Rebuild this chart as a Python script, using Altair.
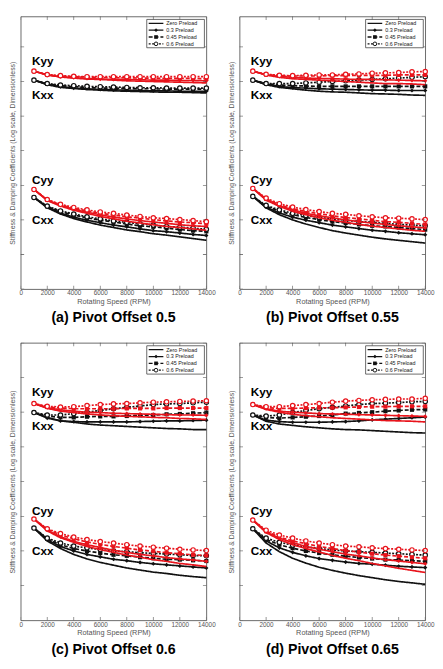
import altair as alt
import pandas as pd

# ---------------- data (log10 of dimensionless coefficients) ----------------
RPM = [1000, 2000, 3000, 4000, 5000, 6000, 7000, 8000, 9000, 10000, 11000, 12000, 13000, 14000]
PRELOADS = ["Zero Preload", "0.3 Preload", "0.45 Preload", "0.6 Preload"]
COEFS = ["Kxx", "Kyy", "Cxx", "Cyy"]
CAPTIONS = ["(a) Pivot Offset 0.5", "(b) Pivot Offset 0.55", "(c) Pivot Offset 0.6", "(d) Pivot Offset 0.65"]
XTICKS = [0, 2000, 4000, 6000, 8000, 10000, 12000, 14000]
YDECADES = [-2, -1, 0, 1, 2, 3, 4, 5, 6]
LABELS = ["Kyy", "Kxx", "Cyy", "Cxx"]
LABEL_LOG = [4.58, 3.60, 1.15, 0.00]
LABEL_RPM = 850

# each list: [zero, 0.3, 0.45, 0.6 preload]
A_KYY = [
    [4.30, 4.19, 4.13, 4.10, 4.07, 4.06, 4.04, 4.02, 4.01, 4.00, 3.99, 3.98, 3.97, 3.96],
    [4.30, 4.19, 4.14, 4.11, 4.09, 4.07, 4.06, 4.06, 4.05, 4.04, 4.04, 4.03, 4.03, 4.02],
    [4.30, 4.19, 4.16, 4.14, 4.13, 4.12, 4.11, 4.11, 4.10, 4.10, 4.09, 4.09, 4.09, 4.08],
    [4.30, 4.20, 4.17, 4.15, 4.14, 4.14, 4.14, 4.14, 4.14, 4.14, 4.14, 4.14, 4.14, 4.14],
]
A_KXX = [
    [4.04, 3.91, 3.83, 3.80, 3.77, 3.75, 3.73, 3.72, 3.71, 3.70, 3.69, 3.69, 3.68, 3.67],
    [4.04, 3.92, 3.85, 3.81, 3.79, 3.77, 3.76, 3.75, 3.74, 3.73, 3.73, 3.72, 3.72, 3.72],
    [4.04, 3.93, 3.88, 3.85, 3.83, 3.81, 3.81, 3.80, 3.79, 3.79, 3.78, 3.78, 3.78, 3.78],
    [4.04, 3.94, 3.90, 3.88, 3.86, 3.85, 3.84, 3.83, 3.82, 3.82, 3.81, 3.81, 3.81, 3.81],
]
A_CYY = [
    [0.88, 0.56, 0.40, 0.28, 0.19, 0.10, 0.03, -0.04, -0.09, -0.14, -0.19, -0.22, -0.26, -0.30],
    [0.88, 0.57, 0.42, 0.31, 0.22, 0.15, 0.08, 0.03, -0.02, -0.06, -0.10, -0.14, -0.17, -0.19],
    [0.88, 0.58, 0.44, 0.33, 0.26, 0.19, 0.14, 0.09, 0.05, 0.01, -0.03, -0.06, -0.08, -0.11],
    [0.88, 0.59, 0.45, 0.36, 0.29, 0.23, 0.19, 0.14, 0.10, 0.06, 0.04, 0.01, -0.02, -0.05],
]
A_CXX = [
    [0.65, 0.35, 0.17, 0.04, -0.06, -0.15, -0.22, -0.29, -0.34, -0.40, -0.44, -0.49, -0.54, -0.59],
    [0.65, 0.37, 0.20, 0.08, -0.01, -0.08, -0.15, -0.20, -0.26, -0.31, -0.34, -0.38, -0.42, -0.45],
    [0.65, 0.39, 0.24, 0.14, 0.06, -0.01, -0.06, -0.12, -0.17, -0.20, -0.24, -0.28, -0.31, -0.33],
    [0.65, 0.40, 0.26, 0.17, 0.09, 0.03, -0.03, -0.07, -0.11, -0.15, -0.19, -0.21, -0.24, -0.27],
]
B_KYY = [
    [4.30, 4.19, 4.12, 4.08, 4.06, 4.04, 4.02, 4.00, 3.98, 3.96, 3.94, 3.94, 3.93, 3.91],
    [4.30, 4.19, 4.15, 4.12, 4.10, 4.09, 4.08, 4.07, 4.06, 4.06, 4.05, 4.04, 4.03, 4.02],
    [4.30, 4.20, 4.17, 4.16, 4.16, 4.16, 4.17, 4.17, 4.18, 4.18, 4.18, 4.19, 4.19, 4.19],
    [4.30, 4.21, 4.18, 4.17, 4.18, 4.19, 4.19, 4.21, 4.22, 4.24, 4.25, 4.26, 4.28, 4.29],
]
B_KXX = [
    [4.04, 3.91, 3.83, 3.79, 3.75, 3.72, 3.70, 3.69, 3.67, 3.65, 3.64, 3.63, 3.61, 3.60],
    [4.04, 3.92, 3.86, 3.82, 3.81, 3.79, 3.78, 3.77, 3.76, 3.75, 3.75, 3.74, 3.74, 3.74],
    [4.04, 3.94, 3.90, 3.88, 3.87, 3.86, 3.86, 3.86, 3.86, 3.86, 3.86, 3.86, 3.86, 3.86],
    [4.04, 3.94, 3.94, 3.94, 3.96, 3.98, 4.00, 4.02, 4.04, 4.06, 4.08, 4.10, 4.12, 4.14],
]
B_CYY = [
    [0.91, 0.57, 0.39, 0.25, 0.15, 0.06, -0.01, -0.07, -0.13, -0.18, -0.22, -0.26, -0.30, -0.33],
    [0.91, 0.59, 0.41, 0.29, 0.19, 0.12, 0.06, 0.00, -0.05, -0.09, -0.13, -0.17, -0.20, -0.23],
    [0.91, 0.61, 0.44, 0.32, 0.24, 0.18, 0.12, 0.07, 0.03, -0.01, -0.05, -0.07, -0.10, -0.13],
    [0.91, 0.63, 0.47, 0.37, 0.30, 0.24, 0.19, 0.16, 0.12, 0.09, 0.06, 0.05, 0.03, 0.01],
]
B_CXX = [
    [0.68, 0.35, 0.15, 0.00, -0.12, -0.22, -0.31, -0.38, -0.44, -0.50, -0.55, -0.59, -0.63, -0.67],
    [0.68, 0.37, 0.20, 0.08, -0.01, -0.08, -0.15, -0.20, -0.25, -0.30, -0.33, -0.37, -0.40, -0.43],
    [0.68, 0.40, 0.25, 0.15, 0.07, 0.01, -0.05, -0.09, -0.13, -0.17, -0.19, -0.22, -0.25, -0.28],
    [0.68, 0.42, 0.29, 0.19, 0.13, 0.07, 0.03, -0.01, -0.05, -0.07, -0.10, -0.13, -0.15, -0.17],
]
C_KYY = [
    [4.25, 4.11, 4.03, 3.99, 3.95, 3.92, 3.90, 3.88, 3.87, 3.85, 3.84, 3.82, 3.81, 3.79],
    [4.25, 4.13, 4.07, 4.03, 4.00, 3.99, 3.97, 3.96, 3.95, 3.94, 3.93, 3.92, 3.92, 3.91],
    [4.25, 4.15, 4.12, 4.10, 4.10, 4.10, 4.10, 4.11, 4.11, 4.11, 4.12, 4.12, 4.12, 4.12],
    [4.25, 4.17, 4.15, 4.16, 4.19, 4.22, 4.24, 4.25, 4.27, 4.29, 4.30, 4.31, 4.32, 4.33],
]
C_KXX = [
    [3.99, 3.85, 3.75, 3.71, 3.66, 3.63, 3.61, 3.59, 3.57, 3.55, 3.53, 3.52, 3.50, 3.50],
    [3.99, 3.83, 3.75, 3.73, 3.72, 3.72, 3.72, 3.72, 3.73, 3.74, 3.75, 3.75, 3.76, 3.77],
    [3.99, 3.89, 3.85, 3.85, 3.87, 3.88, 3.88, 3.89, 3.91, 3.92, 3.94, 3.95, 3.97, 3.99],
    [3.99, 3.92, 3.92, 3.96, 4.00, 4.05, 4.10, 4.14, 4.18, 4.22, 4.24, 4.25, 4.27, 4.29],
]
C_CYY = [
    [0.92, 0.58, 0.38, 0.25, 0.13, 0.04, -0.04, -0.12, -0.18, -0.25, -0.30, -0.36, -0.40, -0.45],
    [0.92, 0.60, 0.41, 0.28, 0.18, 0.10, 0.02, -0.04, -0.10, -0.14, -0.19, -0.23, -0.26, -0.30],
    [0.92, 0.63, 0.46, 0.35, 0.26, 0.19, 0.13, 0.08, 0.03, -0.01, -0.05, -0.08, -0.11, -0.13],
    [0.92, 0.64, 0.50, 0.40, 0.33, 0.27, 0.23, 0.18, 0.14, 0.11, 0.08, 0.05, 0.03, 0.01],
]
C_CXX = [
    [0.66, 0.29, 0.07, -0.10, -0.23, -0.33, -0.41, -0.49, -0.55, -0.61, -0.65, -0.70, -0.74, -0.77],
    [0.66, 0.32, 0.13, 0.00, -0.10, -0.17, -0.24, -0.28, -0.33, -0.37, -0.40, -0.43, -0.46, -0.49],
    [0.66, 0.35, 0.18, 0.07, 0.00, -0.06, -0.11, -0.14, -0.18, -0.21, -0.24, -0.25, -0.27, -0.29],
    [0.66, 0.37, 0.23, 0.14, 0.09, 0.04, 0.00, -0.02, -0.05, -0.07, -0.09, -0.11, -0.13, -0.14],
]
D_KYY = [
    [4.22, 4.08, 4.00, 3.94, 3.90, 3.87, 3.84, 3.82, 3.80, 3.78, 3.76, 3.75, 3.74, 3.72],
    [4.22, 4.10, 4.03, 4.00, 3.98, 3.96, 3.95, 3.94, 3.93, 3.92, 3.91, 3.90, 3.89, 3.88],
    [4.22, 4.13, 4.11, 4.11, 4.12, 4.13, 4.13, 4.14, 4.15, 4.16, 4.16, 4.17, 4.17, 4.17],
    [4.22, 4.16, 4.16, 4.19, 4.22, 4.25, 4.29, 4.32, 4.34, 4.36, 4.37, 4.38, 4.38, 4.40],
]
D_KXX = [
    [3.92, 3.74, 3.66, 3.62, 3.58, 3.55, 3.52, 3.50, 3.49, 3.47, 3.45, 3.43, 3.41, 3.40],
    [3.92, 3.77, 3.73, 3.71, 3.71, 3.71, 3.72, 3.73, 3.75, 3.78, 3.80, 3.82, 3.84, 3.86],
    [3.92, 3.85, 3.83, 3.85, 3.87, 3.89, 3.92, 3.96, 3.98, 4.00, 4.03, 4.05, 4.07, 4.08],
    [3.92, 3.89, 3.92, 3.99, 4.05, 4.10, 4.14, 4.18, 4.22, 4.25, 4.26, 4.28, 4.30, 4.31],
]
D_CYY = [
    [0.89, 0.53, 0.33, 0.18, 0.07, -0.03, -0.13, -0.21, -0.28, -0.36, -0.43, -0.50, -0.56, -0.62],
    [0.89, 0.55, 0.37, 0.24, 0.13, 0.05, -0.02, -0.09, -0.14, -0.20, -0.25, -0.29, -0.33, -0.37],
    [0.89, 0.57, 0.40, 0.29, 0.21, 0.13, 0.07, 0.01, -0.03, -0.08, -0.12, -0.15, -0.18, -0.21],
    [0.89, 0.60, 0.46, 0.37, 0.29, 0.23, 0.18, 0.14, 0.12, 0.09, 0.07, 0.05, 0.03, 0.01],
]
D_CXX = [
    [0.64, 0.23, -0.02, -0.21, -0.35, -0.47, -0.56, -0.64, -0.71, -0.77, -0.83, -0.88, -0.92, -0.96],
    [0.64, 0.29, 0.09, -0.04, -0.14, -0.22, -0.27, -0.32, -0.36, -0.38, -0.41, -0.44, -0.46, -0.48],
    [0.64, 0.33, 0.18, 0.08, 0.00, -0.06, -0.11, -0.15, -0.19, -0.22, -0.25, -0.26, -0.28, -0.30],
    [0.64, 0.37, 0.25, 0.17, 0.12, 0.07, 0.03, 0.00, -0.02, -0.04, -0.06, -0.08, -0.10, -0.12],
]

PANEL_SERIES = {
    "a": [A_KXX, A_KYY, A_CXX, A_CYY],
    "b": [B_KXX, B_KYY, B_CXX, B_CYY],
    "c": [C_KXX, C_KYY, C_CXX, C_CYY],
    "d": [D_KXX, D_KYY, D_CXX, D_CYY],
}

rows = []
for key, series in PANEL_SERIES.items():
    for coef, arrs in zip(COEFS, series):
        for pre, vals in zip(PRELOADS, arrs):
            for r, v in zip(RPM, vals):
                rows.append({"panel": key, "coef": coef, "dir": coef[1:], "preload": pre, "rpm": r, "logv": v})
df = pd.DataFrame(rows)

# ---------------- styling ----------------
BLACK = "#111111"
RED = "#e8141c"
FRAME = "#444444"
GRAY = "#555555"
DASHES = [[1, 0], [1, 0], [4, 2], [2, 1.5]]
W = 190
LEG_X0, LEG_X1, LEG_Y0, LEG_Y1 = 129, 188, 3, 32
LEG_ROWS = [7, 14, 21, 28]


def make_panel(key, caption, height, ymax):
    d = df[df.panel == key]
    xenc = alt.X(
        "rpm:Q",
        scale=alt.Scale(domain=[0, 14000], nice=False),
        axis=alt.Axis(values=XTICKS, format="d", ticks=False, domain=False, grid=False,
                      labelFontSize=6.5, labelColor=GRAY, labelPadding=1, labelFlush=False,
                      title="Rotating Speed (RPM)", titleFontSize=7.5, titleColor=GRAY,
                      titleFontWeight="normal", titlePadding=1),
    )
    yenc = alt.Y(
        "logv:Q",
        scale=alt.Scale(domain=[-2, ymax], nice=False, zero=False),
        axis=alt.Axis(labels=False, ticks=False, domain=False, grid=False,
                      title="Stiffness & Damping Coefficients (Log scale, Dimensionless)",
                      titleFontSize=7, titleColor=GRAY, titleFontWeight="normal", titlePadding=5),
    )
    dash = alt.StrokeDash("preload:N", scale=alt.Scale(domain=PRELOADS, range=DASHES), legend=None)
    shape = alt.Shape("preload:N", scale=alt.Scale(domain=["0.3 Preload", "0.45 Preload"], range=["diamond", "square"]), legend=None)

    layers = []
    for dirv, col in (("xx", BLACK), ("yy", RED)):
        sub = d[d.dir == dirv]
        layers.append(alt.Chart(sub).mark_line(strokeWidth=1.7, color=col).encode(
            x=xenc, y=yenc, strokeDash=dash, detail="coef:N"))
        filled = sub[sub.preload.isin(["0.3 Preload", "0.45 Preload"])]
        layers.append(alt.Chart(filled).mark_point(filled=True, size=18, color=col, opacity=1).encode(
            x=xenc, y=yenc, shape=shape))
        openp = sub[sub.preload == "0.6 Preload"]
        layers.append(alt.Chart(openp).mark_point(shape="circle", size=20, color=col, fill="white",
                                                  fillOpacity=1, strokeWidth=1.2, opacity=1).encode(x=xenc, y=yenc))

    # inward ticks
    ytick_df = pd.DataFrame({"logv": YDECADES})
    for xv in (0, W):
        layers.append(alt.Chart(ytick_df).mark_tick(orient="horizontal", size=7, thickness=0.8,
                                                    color=FRAME, clip=True).encode(y=yenc, x=alt.value(xv)))
    xtick_df = pd.DataFrame({"rpm": XTICKS})
    for yv in (0, height):
        layers.append(alt.Chart(xtick_df).mark_tick(orient="vertical", size=7, thickness=0.8,
                                                    color=FRAME, clip=True).encode(x=xenc, y=alt.value(yv)))

    # curve labels
    lab_df = pd.DataFrame({"rpm": [LABEL_RPM] * 4, "logv": LABEL_LOG, "txt": LABELS})
    layers.append(alt.Chart(lab_df).mark_text(align="left", baseline="middle", fontSize=12,
                                              fontWeight="bold", color="black").encode(x=xenc, y=yenc, text="txt:N"))

    # legend box
    one = pd.DataFrame({"k": [0]})
    layers.append(alt.Chart(one).mark_rect(fill="white", stroke=FRAME, strokeWidth=0.8).encode(
        x=alt.value(LEG_X0), x2=alt.value(LEG_X1), y=alt.value(LEG_Y0), y2=alt.value(LEG_Y1)))
    for i, pre in enumerate(PRELOADS):
        ry = LEG_ROWS[i]
        layers.append(alt.Chart(one).mark_rule(color=BLACK, strokeWidth=1.3, strokeDash=DASHES[i]).encode(
            x=alt.value(LEG_X0 + 2), x2=alt.value(LEG_X0 + 17), y=alt.value(ry)))
        if i == 1 or i == 2:
            layers.append(alt.Chart(one).mark_point(filled=True, size=14, color=BLACK, opacity=1,
                                                    shape=["diamond", "square"][i - 1]).encode(
                x=alt.value(LEG_X0 + 9.5), y=alt.value(ry)))
        if i == 3:
            layers.append(alt.Chart(one).mark_point(shape="circle", size=14, color=BLACK, fill="white",
                                                    fillOpacity=1, strokeWidth=1, opacity=1).encode(
                x=alt.value(LEG_X0 + 9.5), y=alt.value(ry)))
        layers.append(alt.Chart(one).mark_text(align="left", baseline="middle", fontSize=5.5, color="#222").encode(
            x=alt.value(LEG_X0 + 20), y=alt.value(ry), text=alt.value(pre)))

    return alt.layer(*layers).properties(
        width=W, height=height,
        title=alt.TitleParams(caption, orient="bottom", fontSize=14.5, fontWeight="bold",
                              offset=7, color="black", anchor="middle"),
    )


pa = make_panel("a", CAPTIONS[0], 279, 5.88)
pb = make_panel("b", CAPTIONS[1], 279, 5.88)
pc = make_panel("c", CAPTIONS[2], 284, 6.0)
pdn = make_panel("d", CAPTIONS[3], 284, 6.0)

chart = alt.vconcat(
    alt.hconcat(pa, pb, spacing=11),
    alt.hconcat(pc, pdn, spacing=11),
    spacing=17,
).properties(padding=0).configure(font="Liberation Sans").configure_view(stroke=FRAME, strokeWidth=0.8)

chart.save("out.html", embed_options={"renderer": "svg", "actions": False})
